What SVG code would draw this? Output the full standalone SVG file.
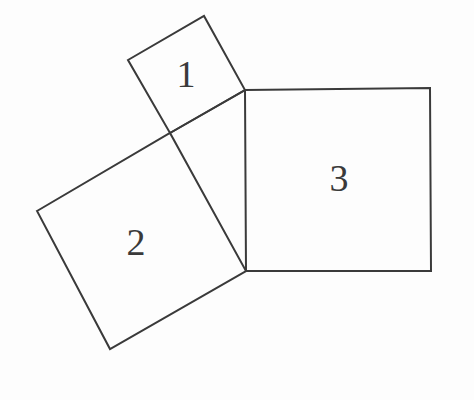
<svg xmlns="http://www.w3.org/2000/svg" width="474" height="400" viewBox="0 0 474 400">
<style>
.sq{fill:none;stroke:#3a3a3a;stroke-width:2;stroke-linejoin:miter}
.lb{font-family:"Liberation Serif",serif;font-size:38px;fill:#3a3a3a;text-anchor:middle}
</style>
<rect width="474" height="400" fill="#fdfdfd"/>
<g id="square1">
<polygon class="sq" points="128,60 204,16 245,90 170,133"/>
<text class="lb" x="186" y="87">1</text>
</g>
<g id="square2">
<polygon class="sq" points="37,211 170,133 246,271 110,349"/>
<text class="lb" x="136" y="255">2</text>
</g>
<g id="square3">
<polygon class="sq" points="245,90 430,88 431,271 246,271"/>
<text class="lb" x="339" y="191">3</text>
</g>
<g id="connectors">
<line class="sq" x1="170" y1="133" x2="245" y2="90"/>
</g>
</svg>
